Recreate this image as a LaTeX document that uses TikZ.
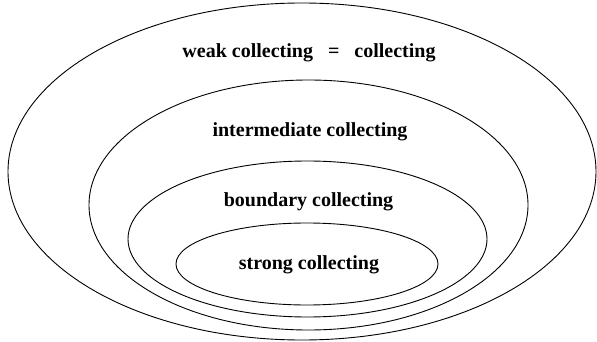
\documentclass[tikz,border=0pt]{standalone}
\usepackage{fontspec}
\setmainfont{Liberation Serif}
\usepackage{tikz}

\begin{document}
\begin{tikzpicture}[x=1pt, y=-1pt,
  ring/.style={line width=0.9pt},
  setlabel/.style={font=\fontsize{20}{24}\selectfont\bfseries, inner sep=0pt}]
\useasboundingbox (0,0) rectangle (597,342);
\begin{scope}
\draw[ring] (302,171.5) ellipse (294 and 168.5);
\draw[ring] (308.5,205) ellipse (219.5 and 125);
\draw[ring] (307.5,239) ellipse (179.5 and 78);
\draw[ring] (307,264) ellipse (131 and 41);

\node[setlabel] (weak) at (309,53) {weak collecting~~~=~~~collecting};
\node[setlabel] (inter) at (310,132) {intermediate collecting};
\node[setlabel] (bound) at (308.5,202) {boundary collecting};
\node[setlabel] (strong) at (309,265) {strong collecting};
\end{scope}
\end{tikzpicture}
\end{document}
